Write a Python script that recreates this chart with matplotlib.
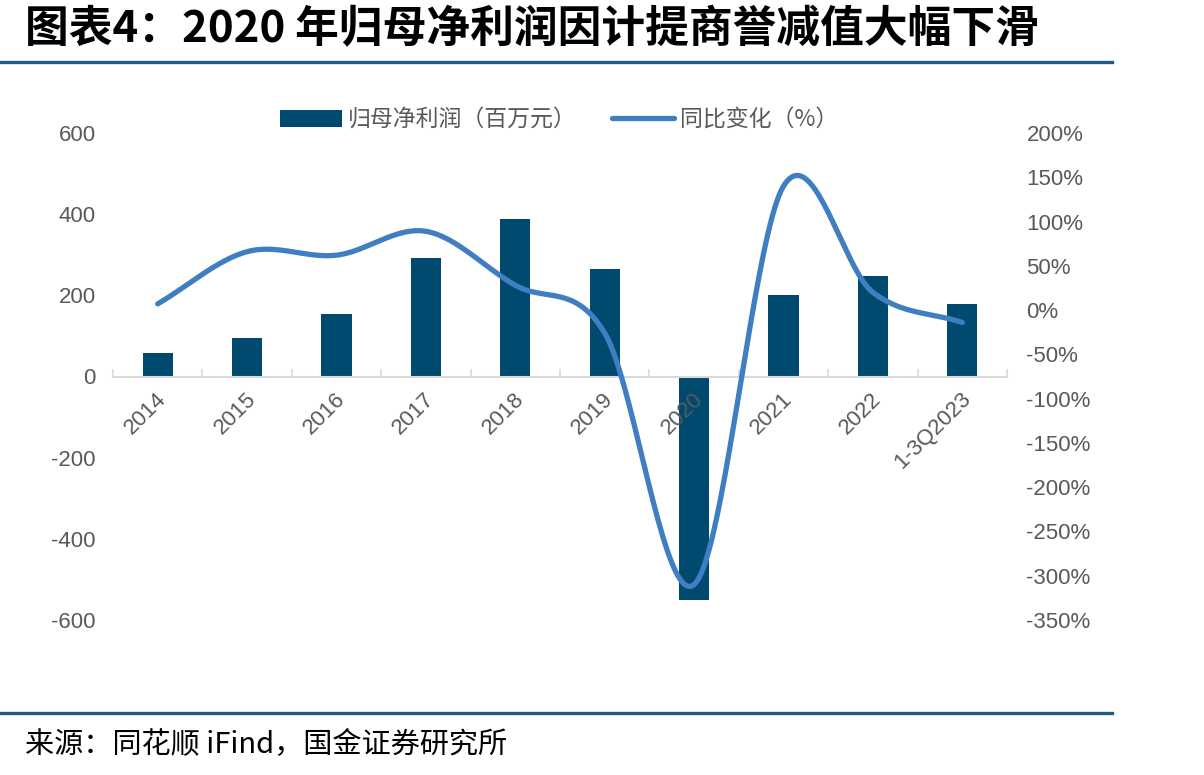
import numpy as np
import matplotlib
matplotlib.use("Agg")
import matplotlib.pyplot as plt
from matplotlib.lines import Line2D
from matplotlib.patches import Patch

# ---- data ----
categories = ["2014", "2015", "2016", "2017", "2018", "2019", "2020", "2021", "2022", "1-3Q2023"]
net_profit = [59, 94, 153, 291, 388, 264, -551, 200, 247, 178]          # 百万元
yoy_change = [7, 66, 62, 89, 28, -26, -310, 140, 20, -14]               # %
left_ticks = [-600, -400, -200, 0, 200, 400, 600]
right_ticks = [-350, -300, -250, -200, -150, -100, -50, 0, 50, 100, 150, 200]

title = "图表4：2020 年归母净利润因计提商誉减值大幅下滑"
source = "来源：同花顺 iFind，国金证券研究所"
bar_label = "归母净利润（百万元）"
line_label = "同比变化（%）"

BAR_C = "#004a70"
LINE_C = "#3f7fc1"
TICK_C = "#595959"
RULE_C = "#1d5b86"

cjk = ["Noto Sans CJK SC", "DejaVu Sans"]
num = ["Liberation Sans", "DejaVu Sans"]
FS = 16

def catmull_rom(xs, ys, n=40):
    xs = np.asarray(xs, float); ys = np.asarray(ys, float)
    px = np.concatenate([[2 * xs[0] - xs[1]], xs, [2 * xs[-1] - xs[-2]]])
    py = np.concatenate([[2 * ys[0] - ys[1]], ys, [2 * ys[-1] - ys[-2]]])
    ox, oy = [], []
    for i in range(1, len(px) - 2):
        t = np.linspace(0, 1, n, endpoint=False)
        t2, t3 = t * t, t * t * t
        for arr, p in ((ox, px), (oy, py)):
            p0, p1, p2, p3 = p[i - 1], p[i], p[i + 1], p[i + 2]
            arr.extend(0.5 * (2 * p1 + (-p0 + p2) * t + (2 * p0 - 5 * p1 + 4 * p2 - p3) * t2
                               + (-p0 + 3 * p1 - 3 * p2 + p3) * t3))
    ox.append(xs[-1]); oy.append(ys[-1])
    return np.array(ox), np.array(oy)

fig = plt.figure(figsize=(12.04, 7.75), dpi=100)
ax = fig.add_axes([113 / 1204, 1 - 620 / 775, (1007 - 113) / 1204, (620 - 133) / 775])
x = np.arange(len(categories))
ax.bar(x, net_profit, width=0.34, color=BAR_C, zorder=2)
ax.set_xlim(-0.5, len(categories) - 0.5)
ax.set_ylim(-600, 600)
ax.set_yticks(left_ticks)
ax.set_yticklabels([str(v) for v in left_ticks], family=num, fontsize=FS, color=TICK_C)
ax.tick_params(axis="y", length=0, pad=12.5)
for s in ("left", "right", "top"):
    ax.spines[s].set_visible(False)
ax.spines["bottom"].set_position(("data", 0))
ax.spines["bottom"].set_color("#d9d9d9")
ax.spines["bottom"].set_linewidth(1.5)
ax.set_xticks(np.arange(len(categories) + 1) - 0.5)
ax.set_xticklabels([])
ax.tick_params(axis="x", direction="in", length=6, color="#d9d9d9", width=1.2)
for i, c in enumerate(categories):
    ax.annotate(c, xy=(i, 0), xycoords="data", xytext=(4, -14), textcoords="offset points",
                rotation=45, ha="right", va="center", rotation_mode="anchor",
                family=num, fontsize=FS, color=TICK_C, zorder=3)

ax2 = ax.twinx()
ax2.set_ylim(-350, 200)
ax2.set_yticks(right_ticks)
ax2.set_yticklabels([f"{v}%" for v in right_ticks], family=num, fontsize=FS, color=TICK_C)
ax2.tick_params(axis="y", length=0, pad=14)
for s in ax2.spines.values():
    s.set_visible(False)
sx, sy = catmull_rom(x, yoy_change)
ax2.plot(sx, sy, color=LINE_C, lw=3.8, solid_capstyle="round", zorder=4)

handles = [Patch(facecolor=BAR_C, edgecolor="none", label=bar_label),
           Line2D([], [], color=LINE_C, lw=3.8, solid_capstyle="round", label=line_label)]
fig.legend(handles=handles, loc="center", bbox_to_anchor=(559 / 1204, 1 - 120 / 775), ncol=2,
           frameon=False, prop={"family": cjk, "size": 16.5}, labelcolor=TICK_C,
           handlelength=2.7, handletextpad=0.25, columnspacing=1.55)

fig.text(25 / 1204, 1 - 29 / 775, title, family=cjk, fontsize=31.5, fontweight="bold",
         style="italic", color="black", va="center", ha="left")
fig.text(25 / 1204, 1 - 745 / 775, source, family=cjk, fontsize=21, color="black",
         va="center", ha="left")
fig.add_artist(Line2D([0, 1112 / 1204], [1 - 61.5 / 775] * 2, color=RULE_C, lw=2.4,
                      transform=fig.transFigure))
fig.add_artist(Line2D([0, 1112 / 1204], [1 - 712.5 / 775] * 2, color=RULE_C, lw=2.4,
                      transform=fig.transFigure))

fig.savefig("out.png", dpi=100)
